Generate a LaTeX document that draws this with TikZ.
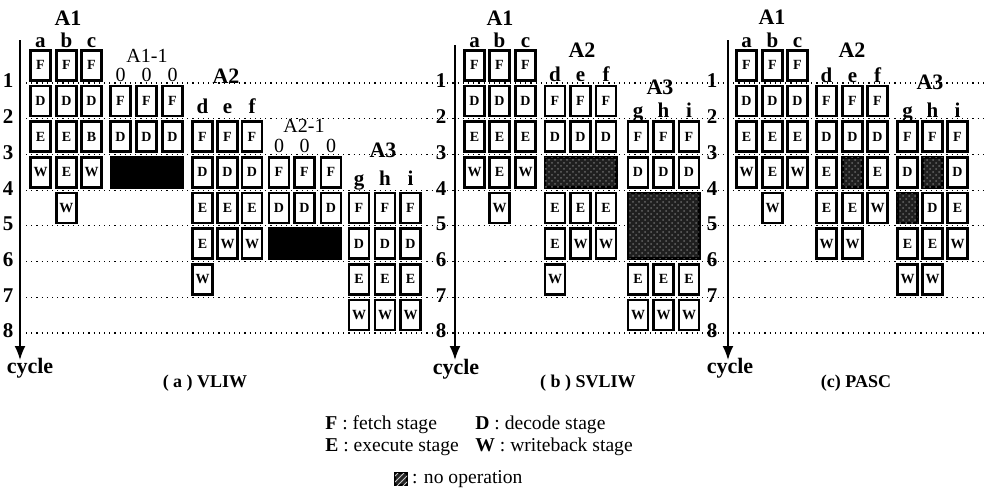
\documentclass[tikz,border=0pt]{standalone}
\usepackage{fontspec}
\setmainfont{Liberation Serif}
\usetikzlibrary{arrows.meta,patterns}
% one instruction: column of stages, n = no-op cell, - = left empty
\newcommand{\instr}[4]{%
  \foreach \s [count=\k from 0] in {#4}{%
    \pgfmathsetmacro{\cy}{65.2+35.7*(#3+\k)}%
    \if n\s \node[stage,noop] (#1-\k) at (#2,\cy) {};%
    \else\if -\s\else \node[stage] (#1-\k) at (#2,\cy) {\s};\fi\fi
  }}
\tikzset{
  stage/.style={draw,line width=1.3pt,minimum width=10pt,minimum height=15pt,inner sep=0pt,
    fill=white,font=\bfseries\fontsize{7}{8}\selectfont},
  noop/.style={fill=black!88,postaction={pattern=crosshatch dots,pattern color=black!60}},
  blackout/.style={fill=black},
  noopkey/.style={draw,line width=0.6pt,fill=black!85,minimum size=6pt,inner sep=0pt,
    postaction={pattern=north east lines,pattern color=white!80!black}},
  rowline/.style={dotted,line width=0.6pt},
  axis/.style={line width=0.9pt,-{Latex[length=7pt,width=5.5pt]}},
  grp/.style={font=\bfseries\fontsize{11}{12}\selectfont},
  sub/.style={font=\fontsize{10}{12}\selectfont,anchor=base},
  col/.style={font=\bfseries\fontsize{10.5}{12}\selectfont,anchor=base},
  rownum/.style={font=\bfseries\fontsize{10.5}{11}\selectfont},
  cyc/.style={font=\bfseries\fontsize{11}{12}\selectfont},
  panelcap/.style={font=\bfseries\fontsize{9}{10}\selectfont},
  key/.style={font=\fontsize{9.8}{11}\selectfont,anchor=base west,inner sep=0pt}
}
\begin{document}
\begin{tikzpicture}[x=0.5pt,y=-0.5pt,>=Latex]
\useasboundingbox (0,0) rectangle (987,493);
% cycle lines and numbers
\foreach \r in {1,...,8} \draw[rowline] (26,{83+35.7*(\r-1)}) -- (985,{83+35.7*(\r-1)});
\foreach \x/\p in {8/a,441/b,712/c} \foreach \r in {1,...,8}
  \node[rownum] (\p-n\r) at (\x,{81+35.7*(\r-1)}) {\r};
% time axes
\coordinate (a-top) at (20,40); \coordinate (a-bot) at (20,360);
\coordinate (b-top) at (455,45); \coordinate (b-bot) at (455,360);
\coordinate (c-top) at (728,40); \coordinate (c-bot) at (728,360);
\draw[axis] (a-top) -- (a-bot); \draw[axis] (b-top) -- (b-bot); \draw[axis] (c-top) -- (c-bot);
\node[cyc] (a-cyc) at (30,368) {cycle}; \node[cyc] (b-cyc) at (456,369) {cycle};
\node[cyc] (c-cyc) at (730,368) {cycle};

% (a) VLIW
\node[grp] (a-A1) at (68,18) {A1};
\foreach \x/\t in {40.5/a,66.5/b,91.5/c} \node[col] (a-l\t) at (\x,47) {\t};
\instr{a-a}{40.5}{0}{F,D,E,W}
\instr{a-b}{66.5}{0}{F,D,E,E,W}
\instr{a-c}{91.5}{0}{F,D,B,W}
\node[sub] (a-A11) at (147,62) {A1-1};
\foreach \x [count=\i] in {120.5,146.5,172.5} {
  \node[sub] (a-z\i) at (\x,81) {0};
  \instr{a-x\i}{\x}{1}{F,D}
}
\node[stage,blackout,minimum width=35.7pt] (a-nop1) at (146.5,172.3) {};
\node[grp] (a-A2) at (226,76) {A2};
\foreach \x/\t in {202.5/d,227.5/e,252/f} \node[col] (a-l\t) at (\x,113) {\t};
\instr{a-d}{202.5}{2}{F,D,E,E,W}
\instr{a-e}{227.5}{2}{F,D,E,W}
\instr{a-f}{252}{2}{F,D,E,W}
\node[sub] (a-A21) at (304,132) {A2-1};
\foreach \x [count=\i] in {279,304.5,331} {
  \node[sub] (a-y\i) at (\x,152) {0};
  \instr{a-w\i}{\x}{3}{F,D}
}
\node[stage,blackout,minimum width=35.7pt] (a-nop2) at (304.5,243.7) {};
\node[grp] (a-A3) at (383,150) {A3};
\foreach \x/\t in {359/g,385/h,410.5/i} {
  \node[col] (a-l\t) at (\x,185) {\t};
  \instr{a-\t}{\x}{4}{F,D,E,W}
}
\node[panelcap] (a-cap) at (205,383) {( a ) VLIW};

% (b) SVLIW
\node[grp] (b-A1) at (500,18) {A1};
\foreach \x/\t in {474.5/a,499.5/b,525.5/c} \node[col] (b-l\t) at (\x,47) {\t};
\instr{b-a}{474.5}{0}{F,D,E,W}
\instr{b-b}{499.5}{0}{F,D,E,E,W}
\instr{b-c}{525.5}{0}{F,D,E,W}
\node[grp] (b-A2) at (582,50) {A2};
\foreach \x/\t in {555/d,580.5/e,606/f} \node[col] (b-l\t) at (\x,81) {\t};
\instr{b-d}{555}{1}{F,D,-,E,E,W}
\instr{b-e}{580.5}{1}{F,D,-,E,W}
\instr{b-f}{606}{1}{F,D,-,E,W}
\node[stage,noop,minimum width=35.7pt] (b-nop1) at (580.5,172.3) {};
\node[grp] (b-A3) at (660,87) {A3};
\foreach \x/\t in {638/g,663.5/h,689/i} {
  \node[col] (b-l\t) at (\x,117) {\t};
  \instr{b-\t}{\x}{2}{F,D,-,-,E,W}
}
\node[stage,noop,minimum width=35.7pt,minimum height=32.85pt] (b-nop2) at (663.5,225.85) {};
\node[panelcap] (b-cap) at (588,383) {( b ) SVLIW};

% (c) PASC
\node[grp] (c-A1) at (772,17) {A1};
\foreach \x/\t in {746.5/a,772.5/b,797.5/c} \node[col] (c-l\t) at (\x,47) {\t};
\instr{c-a}{746.5}{0}{F,D,E,W}
\instr{c-b}{772.5}{0}{F,D,E,E,W}
\instr{c-c}{797.5}{0}{F,D,E,W}
\node[grp] (c-A2) at (852,50) {A2};
\foreach \x/\t in {826.5/d,852.5/e,877.5/f} \node[col] (c-l\t) at (\x,82) {\t};
\instr{c-d}{826.5}{1}{F,D,E,E,W}
\instr{c-e}{852.5}{1}{F,D,n,E,W}
\instr{c-f}{877.5}{1}{F,D,E,W}
\node[grp] (c-A3) at (930,82) {A3};
\foreach \x/\t in {907.5/g,932.5/h,957.5/i} \node[col] (c-l\t) at (\x,117) {\t};
\instr{c-g}{907.5}{2}{F,D,n,E,W}
\instr{c-h}{932.5}{2}{F,n,D,E,W}
\instr{c-i}{957.5}{2}{F,D,E,W}
\node[panelcap] (c-cap) at (856,383) {(c) PASC};

% legend
\node[key] (key-f) at (325,429) {\textbf{F} : fetch stage};
\node[key] (key-d) at (475,429) {\textbf{D} : decode stage};
\node[key] (key-e) at (325,451) {\textbf{E} : execute stage};
\node[key] (key-w) at (475,451) {\textbf{W} : writeback stage};
\node[noopkey] (key-n) at (401,479) {};
\node[key,anchor=west] (key-nt) at ([xshift=2pt]key-n.east) {: no operation};
\end{tikzpicture}
\end{document}
